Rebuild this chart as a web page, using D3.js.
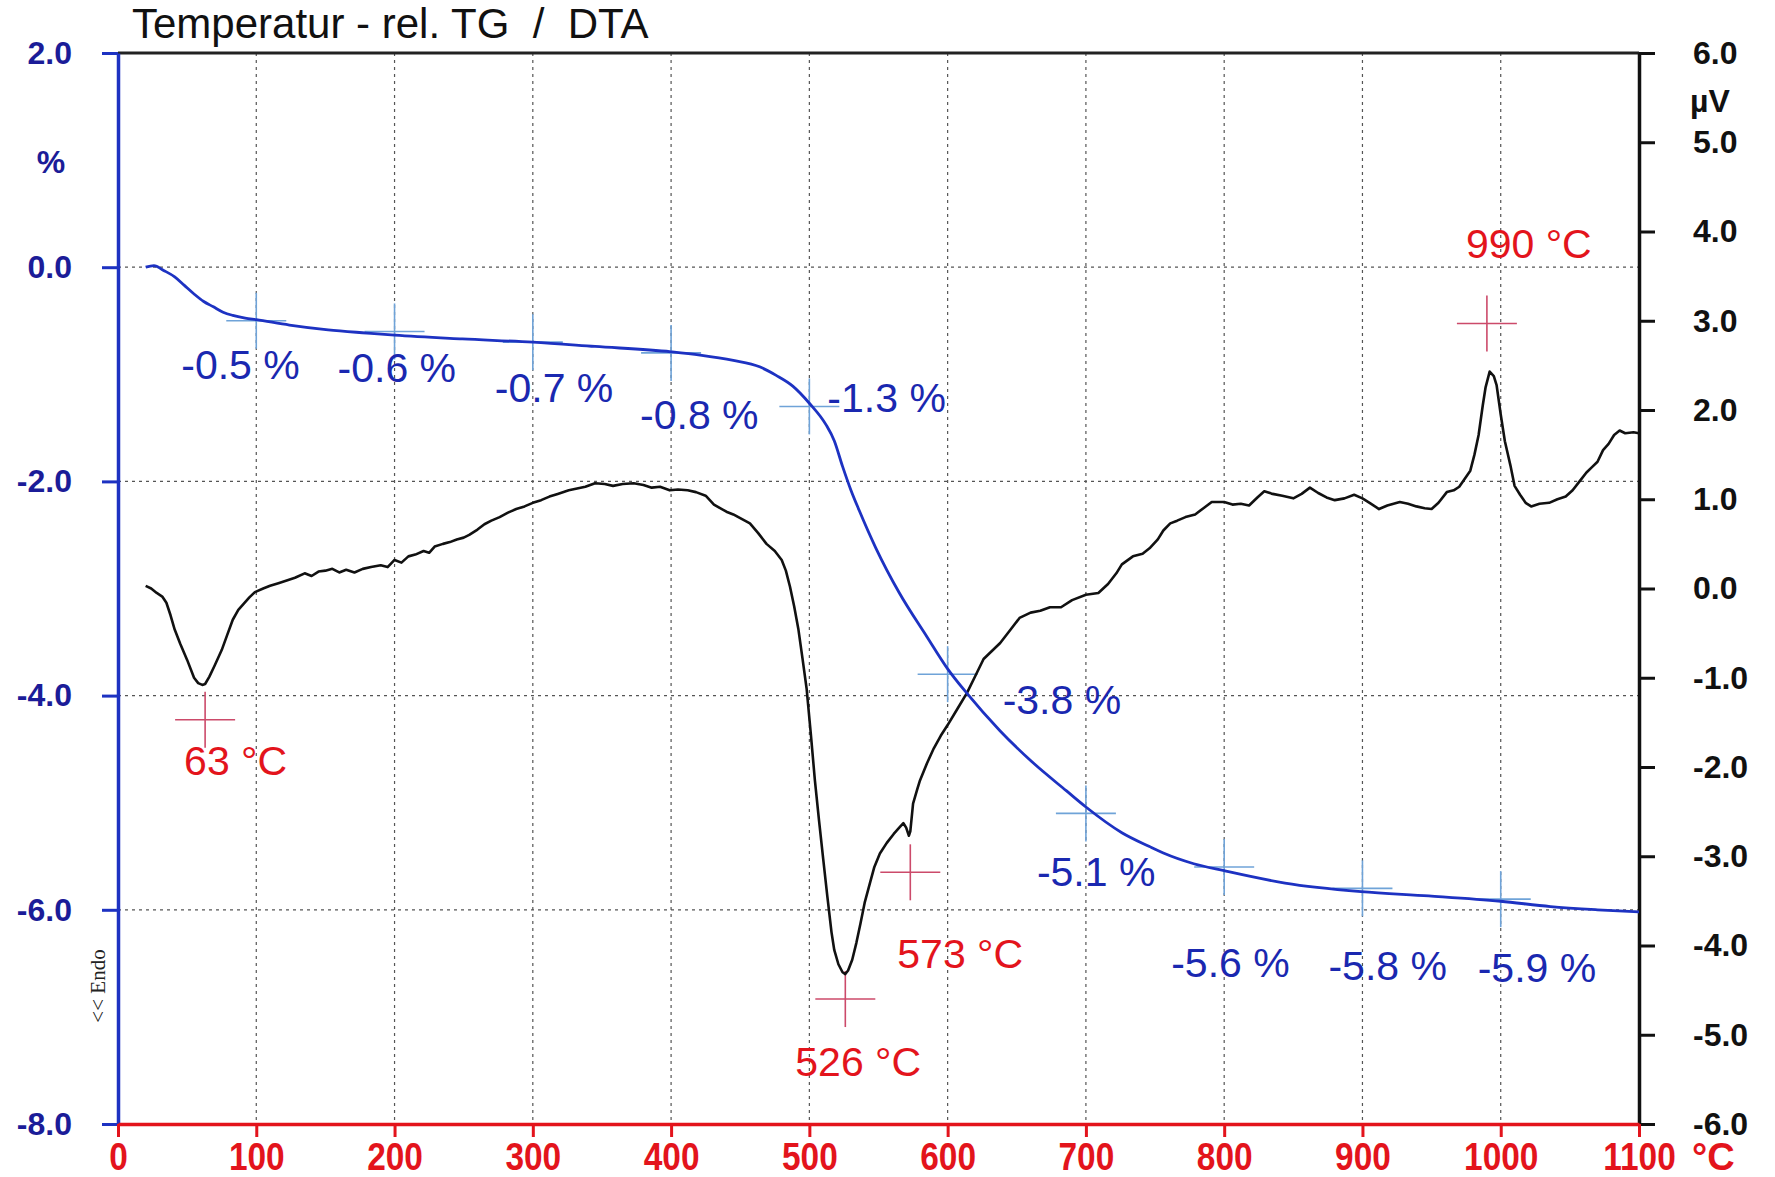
<!DOCTYPE html>
<html>
<head>
<meta charset="utf-8">
<script src="https://cdn.jsdelivr.net/npm/d3@7"></script>
<style>
  body { margin: 0; background: #fff; }
  text { font-family: "Liberation Sans", Arial, sans-serif; }
</style>
</head>
<body>
<svg width="1775" height="1177"></svg>
<script>
// temperature axis
var tempTicks = [0, 100, 200, 300, 400, 500, 600, 700, 800, 900, 1000, 1100];
var tgTicks = [2, 0, -2, -4, -6, -8];
var dtaTicks = [6, 5, 4, 3, 2, 1, 0, -1, -2, -3, -4, -5, -6];

// TG curve (%), [°C, %]
var tgCurve = [[20, 0.0], [26, 0.015], [33, -0.03], [41, -0.09], [48, -0.17], [55, -0.25], [62, -0.32], [69, -0.37],
  [76, -0.42], [83, -0.45], [92, -0.475], [100, -0.49], [124, -0.54], [152, -0.585], [180, -0.615], [200, -0.635],
  [249, -0.67], [300, -0.70], [345, -0.74], [400, -0.79], [421, -0.82], [445, -0.87], [464, -0.93], [476, -1.01],
  [488, -1.11], [500, -1.27], [512, -1.47], [518, -1.62], [524, -1.86], [530, -2.08], [536, -2.27], [548, -2.62],
  [565, -3.04], [585, -3.45], [600, -3.75], [614, -3.98], [638, -4.33], [662, -4.63], [686, -4.89], [700, -5.04],
  [726, -5.28], [746, -5.41], [756, -5.47], [778, -5.57], [800, -5.635], [844, -5.75], [899, -5.83], [948, -5.87],
  [1000, -5.92], [1036, -5.97], [1070, -6.00], [1100, -6.02]];

// DTA curve (µV), [°C, µV]
var dtaCurve = [[20, 0.03], [24, 0.0], [28, -0.05], [32, -0.09], [35, -0.16], [38, -0.3], [41, -0.46], [45, -0.62],
  [50, -0.80], [55, -1.00], [58, -1.06], [61, -1.08], [63, -1.07], [66, -0.99], [70, -0.86], [75, -0.69], [79, -0.52],
  [83, -0.35], [87, -0.24], [91, -0.17], [95, -0.10], [99, -0.04], [105, 0.0], [110, 0.03], [116, 0.06], [122, 0.09],
  [128, 0.12], [135, 0.17], [140, 0.14], [145, 0.19], [150, 0.2], [155, 0.22], [160, 0.18], [165, 0.21], [171, 0.18],
  [177, 0.22], [183, 0.24], [190, 0.26], [195, 0.24], [200, 0.32], [205, 0.29], [210, 0.36], [215, 0.38], [221, 0.42],
  [225, 0.40], [229, 0.47], [235, 0.50], [240, 0.52], [245, 0.55], [250, 0.57], [254, 0.60], [260, 0.66], [265, 0.72],
  [270, 0.76], [276, 0.80], [282, 0.85], [288, 0.89], [294, 0.92], [300, 0.96], [306, 0.99], [312, 1.03], [318, 1.06],
  [326, 1.10], [332, 1.12], [338, 1.14], [345, 1.18], [352, 1.17], [358, 1.15], [365, 1.17], [373, 1.18], [380, 1.16],
  [386, 1.13], [392, 1.14], [399, 1.10], [405, 1.11], [412, 1.10], [418, 1.08], [425, 1.04], [431, 0.94], [440, 0.86],
  [445, 0.83], [451, 0.78], [457, 0.73], [463, 0.62], [469, 0.50], [475, 0.42], [480, 0.32], [483, 0.2], [486, 0.02],
  [489, -0.2], [492, -0.45], [495, -0.78], [498, -1.12], [501, -1.62], [504, -2.15], [507, -2.6], [510, -3.03],
  [513, -3.45], [516, -3.85], [518, -4.05], [521, -4.21], [524, -4.30], [526, -4.32], [528, -4.28], [531, -4.16],
  [534, -3.97], [537, -3.75], [540, -3.52], [544, -3.29], [547, -3.12], [551, -2.97], [556, -2.85], [561, -2.75],
  [565, -2.68], [568, -2.63], [570, -2.68], [572, -2.77], [573, -2.72], [575, -2.41], [578, -2.25], [580, -2.15],
  [585, -1.96], [590, -1.79], [595, -1.65], [600, -1.53], [607, -1.35], [614, -1.17], [620, -0.98], [626, -0.79],
  [632, -0.70], [638, -0.61], [645, -0.47], [652, -0.33], [660, -0.27], [667, -0.25], [674, -0.21], [682, -0.21],
  [690, -0.13], [700, -0.07], [709, -0.05], [716, 0.05], [722, 0.17], [726, 0.27], [734, 0.36], [741, 0.39],
  [746, 0.45], [752, 0.55], [756, 0.65], [761, 0.73], [766, 0.76], [772, 0.80], [779, 0.83], [785, 0.90], [791, 0.97],
  [800, 0.97], [806, 0.94], [812, 0.95], [818, 0.93], [824, 1.02], [829, 1.09], [835, 1.06], [842, 1.04], [850, 1.01],
  [856, 1.06], [862, 1.13], [868, 1.07], [874, 1.02], [880, 0.99], [887, 1.01], [894, 1.05], [900, 1.01], [906, 0.95],
  [912, 0.89], [918, 0.93], [927, 0.97], [933, 0.95], [939, 0.92], [945, 0.90], [950, 0.89], [955, 0.96], [961, 1.08],
  [966, 1.10], [970, 1.14], [974, 1.23], [978, 1.32], [981, 1.50], [984, 1.72], [987, 2.05], [989, 2.25], [992, 2.43],
  [995, 2.38], [997, 2.28], [1000, 1.95], [1003, 1.65], [1007, 1.38], [1010, 1.15], [1014, 1.05], [1018, 0.96],
  [1022, 0.92], [1028, 0.95], [1035, 0.96], [1041, 1.00], [1047, 1.03], [1052, 1.10], [1057, 1.20], [1062, 1.30],
  [1066, 1.36], [1070, 1.42], [1074, 1.55], [1078, 1.62], [1082, 1.72], [1086, 1.77], [1090, 1.74], [1096, 1.75],
  [1100, 1.74]];

// TG step marks
var tgMarkTemps = [100, 200, 300, 400, 500, 600, 700, 800, 900, 1000];
var tgMarkValues = [-0.5, -0.6, -0.7, -0.8, -1.3, -3.8, -5.1, -5.6, -5.8, -5.9];

// DTA peak marks
var peakTemps = [63, 526, 573, 990];
var peakMarkValues = [-1.47, -4.60, -3.18, 2.97];

var svg = d3.select("svg");
var plotL = 118, plotR = 1639, plotT = 53, plotB = 1124;

var x = d3.scaleLinear().domain([0, 1100]).range([plotL, plotR]);
var yTG = d3.scaleLinear().domain([-8, 2]).range([plotB, plotT]);
var yDTA = d3.scaleLinear().domain([-6, 6]).range([plotB, plotT]);

var navy = "#1b1c98", blue = "#1d32c2", red = "#e3141c";

svg.append("rect").attr("width", 1775).attr("height", 1177).attr("fill", "#fff");

// grid
var grid = svg.append("g").attr("stroke", "#555").attr("stroke-width", 1.2).attr("stroke-dasharray", "3,4");
grid.selectAll(".gx").data(tempTicks.slice(1, -1)).enter().append("line")
  .attr("x1", function (d) { return x(d); }).attr("x2", function (d) { return x(d); })
  .attr("y1", plotT).attr("y2", plotB);
grid.selectAll(".gy").data([0, -2, -4, -6]).enter().append("line")
  .attr("x1", plotL).attr("x2", plotR)
  .attr("y1", function (d) { return yTG(d); }).attr("y2", function (d) { return yTG(d); });

// frame top
svg.append("line").attr("x1", plotL).attr("x2", plotR).attr("y1", plotT).attr("y2", plotT)
  .attr("stroke", "#222").attr("stroke-width", 3);

// left axis
var gl = svg.append("g").attr("transform", "translate(" + plotL + ",0)")
  .call(d3.axisLeft(yTG).tickValues(tgTicks).tickSize(16).tickSizeOuter(0).tickPadding(30)
    .tickFormat(function (d) { return d.toFixed(1); }));
gl.select(".domain").attr("stroke", blue).attr("stroke-width", 3.5);
gl.selectAll(".tick line").attr("stroke", blue).attr("stroke-width", 3);
gl.selectAll(".tick text").attr("fill", navy).attr("font-size", 32).attr("font-weight", "bold")
  .attr("font-family", "Liberation Sans, Arial, sans-serif");

// right axis
var gr = svg.append("g").attr("transform", "translate(" + plotR + ",0)")
  .call(d3.axisRight(yDTA).tickValues(dtaTicks).tickSize(16).tickSizeOuter(0).tickPadding(38)
    .tickFormat(function (d) { return d.toFixed(1); }));
gr.select(".domain").attr("stroke", "#111").attr("stroke-width", 3.5);
gr.selectAll(".tick line").attr("stroke", "#111").attr("stroke-width", 3);
gr.selectAll(".tick text").attr("fill", "#111").attr("font-size", 32).attr("font-weight", "bold")
  .attr("font-family", "Liberation Sans, Arial, sans-serif");

// bottom axis
var gb = svg.append("g").attr("transform", "translate(0," + plotB + ")")
  .call(d3.axisBottom(x).tickValues(tempTicks).tickSize(13).tickSizeOuter(0)
    .tickFormat(function (d) { return d; }));
gb.select(".domain").attr("stroke", red).attr("stroke-width", 3.5);
gb.selectAll(".tick line").attr("stroke", red).attr("stroke-width", 3);
gb.selectAll(".tick text").attr("fill", red).attr("font-size", 38).attr("font-weight", "bold")
  .attr("font-family", "Liberation Sans, Arial, sans-serif")
  .attr("y", 46).attr("dy", 0).attr("transform", "scale(0.88,1)");

svg.append("text").attr("x", 1692).attr("y", 1170).attr("fill", red).attr("font-size", 38)
  .attr("font-weight", "bold").text("°C");

// axis units + title
svg.append("text").attr("x", 51).attr("y", 173).attr("text-anchor", "middle").attr("fill", navy)
  .attr("font-size", 32).attr("font-weight", "bold").text("%");
svg.append("text").attr("x", 1690).attr("y", 112).attr("fill", "#111")
  .attr("font-size", 32).attr("font-weight", "bold").text("µV");
svg.append("text").attr("x", 132).attr("y", 38).attr("fill", "#111").attr("font-size", 42)
  .attr("xml:space", "preserve").style("white-space", "pre").text("Temperatur - rel. TG  /  DTA");
svg.append("text").attr("transform", "translate(105,986) rotate(-90)").attr("text-anchor", "middle")
  .style("font-family", "Liberation Serif, serif")
  .attr("font-size", 21).attr("fill", "#222").text("<< Endo");

// TG step crosshairs
var tgMarks = tgMarkTemps.map(function (t, i) { return { t: t, v: tgMarkValues[i] }; });
var tgOff = [[-75, 58], [-57, 51], [-38, 60], [-31, 76], [18, 6], [55, 40], [-49, 73], [-53, 110], [-34, 92], [-23, 83]];
var tm = svg.append("g").attr("stroke", "#6fa3d8").attr("stroke-width", 1.6);
tm.selectAll(".h").data(tgMarks).enter().append("line")
  .attr("x1", function (d) { return x(d.t) - 30; }).attr("x2", function (d) { return x(d.t) + 30; })
  .attr("y1", function (d) { return yTG(d.v); }).attr("y2", function (d) { return yTG(d.v); });
tm.selectAll(".v").data(tgMarks).enter().append("line")
  .attr("x1", function (d) { return x(d.t); }).attr("x2", function (d) { return x(d.t); })
  .attr("y1", function (d) { return yTG(d.v) - 28; }).attr("y2", function (d) { return yTG(d.v) + 28; });

// DTA peak crosshairs
var peaks = peakTemps.map(function (t, i) { return { t: t, v: peakMarkValues[i] }; });
var peakOff = [[-21, 55], [-50, 77], [-13, 96], [-21, -65]];
var pm = svg.append("g").attr("stroke", "#cc4a6a").attr("stroke-width", 1.6);
pm.selectAll(".h").data(peaks).enter().append("line")
  .attr("x1", function (d) { return x(d.t) - 30; }).attr("x2", function (d) { return x(d.t) + 30; })
  .attr("y1", function (d) { return yDTA(d.v); }).attr("y2", function (d) { return yDTA(d.v); });
pm.selectAll(".v").data(peaks).enter().append("line")
  .attr("x1", function (d) { return x(d.t); }).attr("x2", function (d) { return x(d.t); })
  .attr("y1", function (d) { return yDTA(d.v) - 28; }).attr("y2", function (d) { return yDTA(d.v) + 28; });

// curves
var lineDTA = d3.line().x(function (d) { return x(d[0]); }).y(function (d) { return yDTA(d[1]); });
var lineTG = d3.line().curve(d3.curveMonotoneX).x(function (d) { return x(d[0]); }).y(function (d) { return yTG(d[1]); });

svg.append("path").datum(dtaCurve).attr("fill", "none").attr("stroke", "#111").attr("stroke-width", 2.6)
  .attr("stroke-linejoin", "round").attr("d", lineDTA);
svg.append("path").datum(tgCurve).attr("fill", "none").attr("stroke", blue).attr("stroke-width", 2.8)
  .attr("stroke-linejoin", "round").attr("d", lineTG);

// labels
svg.selectAll(".tgl").data(tgMarks).enter().append("text")
  .attr("x", function (d, i) { return x(d.t) + tgOff[i][0]; })
  .attr("y", function (d, i) { return yTG(d.v) + tgOff[i][1]; })
  .attr("fill", "#1a28b0").attr("font-size", 41)
  .text(function (d) { return d.v.toFixed(1) + " %"; });

svg.selectAll(".pl").data(peaks).enter().append("text")
  .attr("x", function (d, i) { return x(d.t) + peakOff[i][0]; })
  .attr("y", function (d, i) { return yDTA(d.v) + peakOff[i][1]; })
  .attr("fill", red).attr("font-size", 41)
  .text(function (d) { return d.t + " °C"; });
</script>
</body>
</html>
